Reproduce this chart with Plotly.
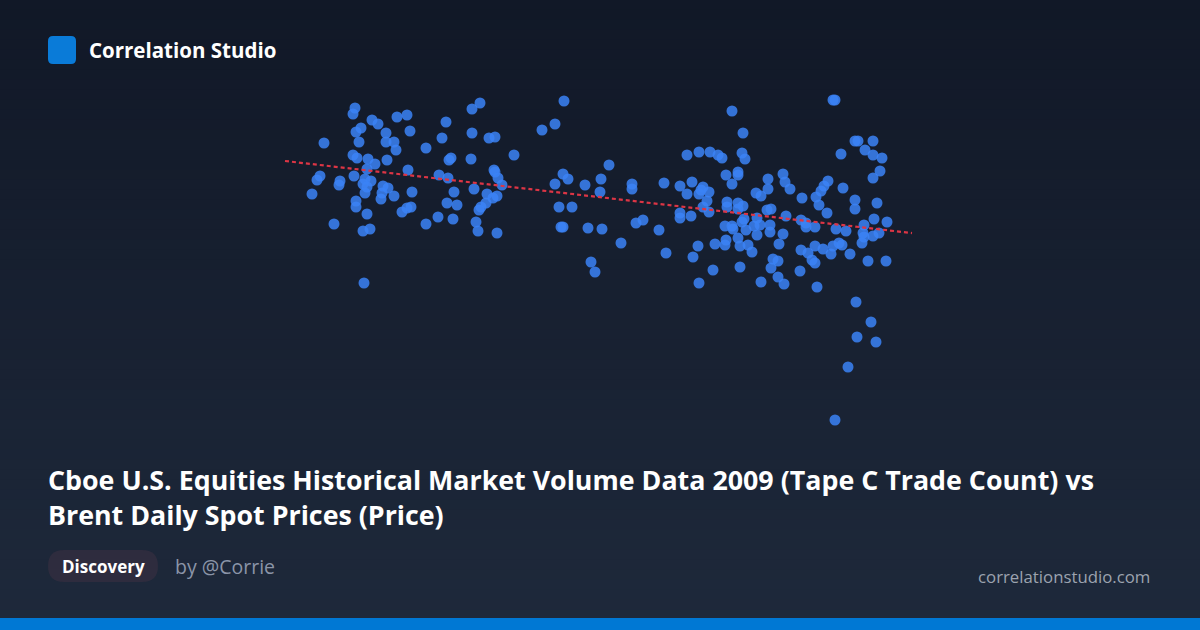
import numpy as np
import plotly.graph_objects as go

# Tape C trade count (x) vs Brent price (y) (chart units)
trade_count = [
    355, 353, 372, 378, 397, 407, 410, 356, 361, 386, 359, 324, 386, 394, 396, 426, 353, 357, 368, 375,
    387, 408, 367, 320, 317, 340, 339, 354, 365, 371, 363, 367, 383, 388, 365, 312, 382, 394, 412, 381,
    356, 356, 367, 402, 407, 411, 334, 363, 370, 426, 364,
    480, 472, 446, 472, 489, 495, 442, 542, 451, 449, 471, 514, 494, 495, 498, 439, 448, 502, 474,
    454, 487, 497, 493, 486, 447, 457, 481, 479, 438, 453, 476, 478, 497,
    564, 555, 609, 563, 568, 555, 585, 601, 632, 632, 664, 680, 600, 559, 572, 561, 563, 588, 602, 636,
    643, 659, 680, 680, 621, 666, 591, 595,
    732, 743, 687, 699, 710, 718, 722, 742, 745, 726, 738, 738, 732, 783, 768, 785, 790, 768, 756, 761,
    692, 703, 709, 699, 687, 701, 707, 727, 738, 743, 738, 727, 703, 709, 691, 744, 742, 767, 771, 757,
    786, 725, 732, 733, 746, 754, 760, 770, 770, 757, 783, 738, 726, 725, 715, 698, 740, 748, 752, 779,
    693, 713, 740, 773, 778, 771, 778, 784, 761, 699,
    833, 835, 855, 858, 873, 841, 865, 873, 882, 828, 824, 821, 816, 802, 843, 880, 873, 855, 855, 877,
    819, 827, 801, 806, 806, 815, 836, 846, 864, 863, 874, 887, 879, 873, 864, 862, 801, 808, 815, 823,
    831, 833, 839, 842, 850, 812, 815, 868, 886, 800, 817,
    856, 871, 857, 876, 848, 835,
]
brent_price = [
    108, 114, 120, 124, 117, 115, 131, 132, 128, 133, 142, 143, 142, 142, 150, 148, 155, 158, 159, 164,
    160, 170, 169, 176, 180, 181, 185, 176, 179, 181, 184, 187, 186, 188, 193, 194, 193, 196, 192, 199,
    201, 207, 214, 212, 208, 207, 224, 231, 229, 224, 283,
    103, 109, 122, 133, 138, 137, 138, 130, 158, 160, 159, 155, 170, 172, 178, 175, 178, 185, 189,
    192, 194, 196, 198, 203, 203, 205, 207, 210, 217, 219, 222, 231, 233,
    101, 124, 165, 174, 179, 184, 185, 179, 184, 189, 183, 186, 192, 207, 207, 227, 227, 228, 229, 223,
    220, 230, 213, 218, 243, 253, 262, 272,
    111, 133, 155, 152, 152, 155, 158, 153, 159, 175, 172, 175, 184, 174, 179, 182, 189, 189, 193, 196,
    182, 187, 192, 194, 194, 190, 201, 202, 203, 206, 209, 207, 207, 212, 216, 219, 222, 210, 209, 218,
    216, 226, 226, 229, 230, 226, 225, 225, 232, 235, 234, 238, 240, 245, 244, 246, 246, 245, 252, 244,
    257, 270, 267, 259, 261, 268, 277, 284, 282, 283,
    100, 100, 141, 141, 141, 154, 150, 155, 158, 181, 186, 191, 197, 198, 188, 171, 178, 200, 209, 203,
    205, 213, 220, 223, 227, 227, 229, 231, 225, 233, 219, 222, 233, 236, 237, 243, 250, 253, 246, 249,
    254, 246, 243, 245, 254, 260, 263, 261, 261, 271, 287,
    302, 322, 337, 342, 367, 420,
]

title_lines = [
    "Cboe U.S. Equities Historical Market Volume Data 2009 (Tape C Trade Count) vs",
    "Brent Daily Spot Prices (Price)",
]

X_RANGE = [0, 1200]
Y_RANGE = [630, 0]
TREND_X = [285, 912]

x = np.array(trade_count, dtype=float)
y = np.array(brent_price, dtype=float)
slope, intercept = np.polyfit(x, y, 1)
tx = np.array(TREND_X, dtype=float)
ty = slope * tx + intercept

fig = go.Figure()
fig.add_trace(go.Scatter(
    x=trade_count, y=brent_price, mode="markers",
    marker=dict(size=11, color="#3b82f6", opacity=0.85, line=dict(width=0)),
    hoverinfo="skip", showlegend=False,
))
fig.add_trace(go.Scatter(
    x=tx, y=ty, mode="lines",
    line=dict(color="#dc3545", width=2.2, dash="4px,3px"),
    hoverinfo="skip", showlegend=False,
))

W, H = 1200, 630
def px(xp):
    return xp / W
def py(yp):
    return 1 - yp / H

# background gradient as horizontal stripes
shapes = []
top = np.array([17, 24, 39])
bot = np.array([30, 41, 59])
n = 63
for i in range(n):
    t = i / (n - 1)
    c = (top + (bot - top) * t).round().astype(int)
    shapes.append(dict(type="rect", xref="paper", yref="paper", layer="below",
                       x0=0, x1=1, y0=1 - (i + 1) / n, y1=1 - i / n + 0.001,
                       fillcolor=f"rgb({c[0]},{c[1]},{c[2]})", line=dict(width=0)))
# bottom bar
shapes.append(dict(type="rect", xref="paper", yref="paper", x0=0, x1=1, y0=0, y1=py(618),
                   fillcolor="#0078d4", line=dict(width=0), layer="above"))

def rounded(x0, y0, x1, y1, r):
    def P(a, b):
        return f"{px(a)},{py(b)}"
    return (f"M {P(x0+r,y0)} L {P(x1-r,y0)} Q {P(x1,y0)} {P(x1,y0+r)} L {P(x1,y1-r)} "
            f"Q {P(x1,y1)} {P(x1-r,y1)} L {P(x0+r,y1)} Q {P(x0,y1)} {P(x0,y1-r)} "
            f"L {P(x0,y0+r)} Q {P(x0,y0)} {P(x0+r,y0)} Z")
shapes.append(dict(type="path", xref="paper", yref="paper", layer="above",
                   path=rounded(48, 36, 76, 64, 5), fillcolor="#0a7bd8", line=dict(width=0)))
shapes.append(dict(type="path", xref="paper", yref="paper", layer="above",
                   path=rounded(48, 550, 158, 582, 16), fillcolor="#2e2c3e", line=dict(width=0)))

ann = [
    dict(text="<b>Correlation Studio</b>", x=px(87), y=py(50), xanchor="left", yanchor="middle",
         font=dict(family="Open Sans", size=20.5, color="#ffffff")),
    dict(text=f"<b>{title_lines[0]}</b>", x=px(46), y=py(479), xanchor="left", yanchor="middle",
         font=dict(family="Open Sans", size=26.8, color="#ffffff")),
    dict(text=f"<b>{title_lines[1]}</b>", x=px(46), y=py(514), xanchor="left", yanchor="middle",
         font=dict(family="Open Sans", size=26.8, color="#ffffff")),
    dict(text="<b>Discovery</b>", x=px(103), y=py(566), xanchor="center", yanchor="middle",
         font=dict(family="Open Sans", size=17, color="#ffffff")),
    dict(text="by @Corrie", x=px(173), y=py(566), xanchor="left", yanchor="middle",
         font=dict(family="Open Sans", size=19.5, color="#8b95a8")),
    dict(text="correlationstudio.com", x=px(1152), y=py(576), xanchor="right", yanchor="middle",
         font=dict(family="Open Sans", size=16.8, color="#9ca3af")),
]
for a in ann:
    a.update(xref="paper", yref="paper", showarrow=False)

fig.update_layout(
    width=W, height=H, margin=dict(l=0, r=0, t=0, b=0),
    paper_bgcolor="#111827", plot_bgcolor="rgba(0,0,0,0)",
    xaxis=dict(range=X_RANGE, visible=False, fixedrange=True),
    yaxis=dict(range=Y_RANGE, visible=False, fixedrange=True),
    shapes=shapes, annotations=ann, showlegend=False,
)
fig.write_html("out.html", config=dict(displayModeBar=False),
               post_script="document.body.style.margin='0';document.body.style.overflow='hidden';")
